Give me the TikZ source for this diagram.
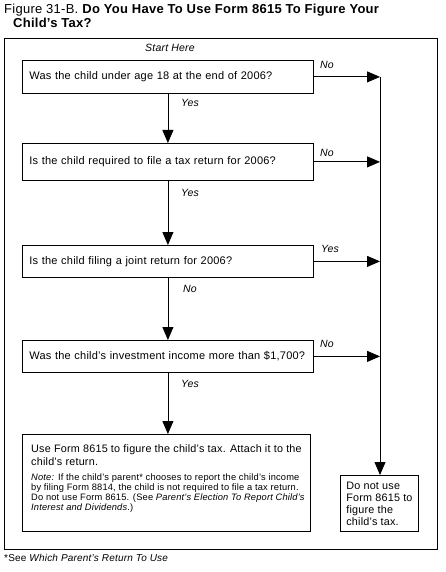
\documentclass[tikz,border=0pt]{standalone}
\usepackage{fontspec}
\setmainfont{Liberation Sans}[LetterSpace=2]
\usepackage{tikz}
\usetikzlibrary{arrows.meta, positioning}
\tikzstyle{arrow} = [line width=0.8pt, -{Triangle[length=13pt,width=11pt]}]
\tikzstyle{question} = [draw, line width=0.8pt, anchor=north west, text width=277pt, inner xsep=7pt, minimum height=33pt, align=left, font=\fontsize{11}{13}\selectfont]
\tikzstyle{answer} = [font=\fontsize{10.5}{12}\selectfont\itshape, inner sep=0pt]

\begin{document}
\begin{tikzpicture}[x=1pt, y=-1pt]
    \useasboundingbox (0,0) rectangle (445,572);

    % Title
    \node (title) [anchor=north west, align=left, inner sep=0pt, font=\fontsize{13}{13.5}\selectfont] at (4,4)
        {Figure 31-B. \textbf{Do You Have To Use Form 8615 To Figure Your}\\\hspace*{9pt}\textbf{Child's Tax?}};
    \draw[line width=0.8pt] (4,38) rectangle (437,549);
    \node (start) [answer] at (170,48) {Start Here};

    % Questions
    \node (q1) [question] at (22,60) {Was the child under age 18 at the end of 2006?};
    \node (q2) [question, minimum height=37pt] at (22,143) {Is the child required to file a tax return for 2006?};
    \node (q3) [question, minimum height=32pt] at (22,245) {Is the child filing a joint return for 2006?};
    \node (q4) [question, minimum height=32pt] at (22,340) {Was the child's investment income more than \$1,700?};

    % Results
    \node (use) [draw, line width=0.8pt, anchor=north west, minimum width=288pt, minimum height=97pt] at (22,434) {};
    \node (usetext) [anchor=north west, align=left, inner sep=0pt, font=\fontsize{10.8}{13}\selectfont] at (31,444)
        {Use Form 8615 to figure the child's tax. Attach it to the\\child's return.};
    \node (usenote) [anchor=north west, align=left, inner sep=0pt, font=\fontsize{9.3}{10}\selectfont] at (31,474)
        {\textit{Note:} If the child's parent* chooses to report the child's income\\
         by filing Form 8814, the child is not required to file a tax return.\\
         Do not use Form 8615. (See \textit{Parent's Election To Report Child's}\\
         \textit{Interest and Dividends}.)};
    \node (stop) [draw, line width=0.8pt, anchor=north west, minimum width=78pt, minimum height=56pt, align=left, font=\fontsize{10.8}{12}\selectfont] at (340,475)
        {Do not use\\Form 8615 to\\figure the\\child's tax.};

    \coordinate (rail) at (380,0);
    \coordinate (railtop) at (q1.east -| rail);

    % Edges
    \draw[arrow] (q1.south) -- (q2.north);
    \draw[arrow] (q2.south) -- (q3.north);
    \draw[arrow] (q3.south) -- (q4.north);
    \draw[arrow] (q4.south) -- (q4.south |- use.north);
    \draw[arrow] (q1.east) -- (railtop);
    \draw[arrow] (q2.east) -- (q2.east -| rail);
    \draw[arrow] (q3.east) -- (q3.east -| rail);
    \draw[arrow] (q4.east) -- (q4.east -| rail);
    \draw[arrow] (railtop) -- (railtop |- stop.north);

    % Labels
    \node (no1) [answer] at (327,65) {No};
    \node (yes1) [answer] at (190,103) {Yes};
    \node (no2) [answer] at (327,153) {No};
    \node (yes2) [answer] at (190,193) {Yes};
    \node (yes3) [answer] at (330,249) {Yes};
    \node (no3) [answer] at (190,289) {No};
    \node (no4) [answer] at (327,344) {No};
    \node (yes4) [answer] at (190,384) {Yes};

    % Footnote
    \node (foot) [anchor=west, inner sep=0pt, font=\fontsize{10}{12}\selectfont] at (4,558) {*See \textit{Which Parent's Return To Use}};
\end{tikzpicture}
\end{document}
